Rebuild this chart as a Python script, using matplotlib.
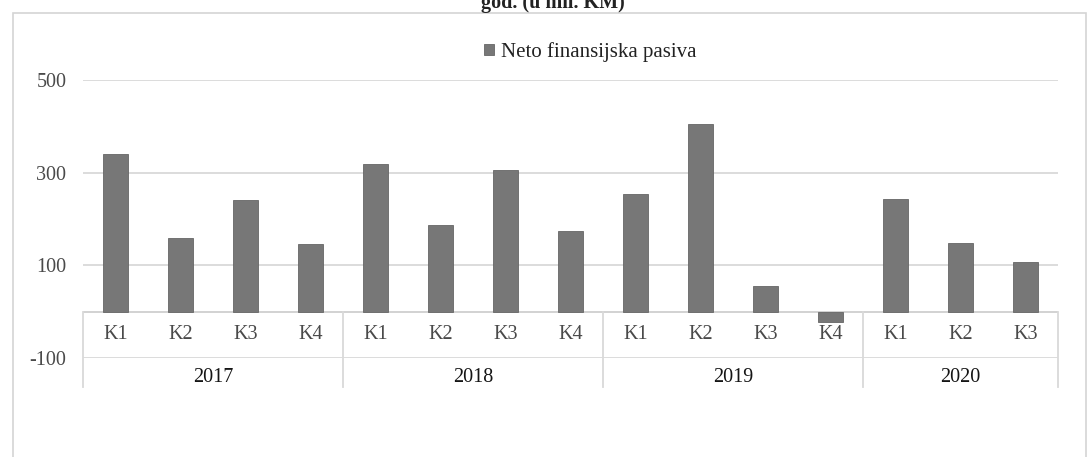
import numpy as np
from matplotlib import pyplot as plt
from matplotlib.patches import Rectangle

plt.rcParams['font.family'] = ['Liberation Serif', 'DejaVu Serif']

years = ['2017', '2018', '2019', '2020']
quarters = [['K1', 'K2', 'K3', 'K4'], ['K1', 'K2', 'K3', 'K4'],
            ['K1', 'K2', 'K3', 'K4'], ['K1', 'K2', 'K3']]
values = [341, 160, 241, 145,
          319, 188, 306, 174,
          255, 406, 55, -22,
          243, 149, 108]
yticks = [-100, 100, 300, 500]
series_name = 'Neto finansijska pasiva'

W, H = 1088, 457
fig = plt.figure(figsize=(W / 100, H / 100), dpi=100)
fig.patch.set_facecolor('white')

# outer frame of the chart (scanned page)
fig.patches.append(Rectangle((13 / W, -0.05), (1086 - 13) / W, 1.05 - 13 / H,
                             transform=fig.transFigure, fill=False,
                             edgecolor='#d4d4d4', lw=1.2))

# title is cut off at the top edge, as in the scan
fig.text(553 / W, 1 - 8 / H, 'god. (u mil. KM)', ha='center', va='baseline',
         fontsize=14.5, fontweight='bold', color='#222222')

left, right = 83, 1058
top, bottom = 80, 358
ax = fig.add_axes([left / W, 1 - bottom / H, (right - left) / W, (bottom - top) / H])

x = np.arange(len(values))
ax.bar(x, values, width=0.385, color='#777777', edgecolor='#666666', lw=0.6,
       label=series_name, zorder=3)

ax.set_xlim(-0.5, len(values) - 0.5)
ax.set_ylim(-100, 500)
ax.set_yticks(yticks)
ax.set_yticklabels([str(v) for v in yticks], fontsize=14.5, color='#4a4a4a')
ax.tick_params(axis='y', length=0, pad=12)
ax.set_xticks([])
for s in ax.spines.values():
    s.set_visible(False)

for v in [100, 300, 500]:
    ax.axhline(v, color='#d9d9d9', lw=1.3, zorder=1)

# multi-level category axis
ax.axhline(0, color='#cfcfcf', lw=1.3, zorder=2)
ax.axhline(-100, color='#d9d9d9', lw=1.3, zorder=2)
pos = 0
bounds = [-0.5]
for yr, qs in zip(years, quarters):
    for q in qs:
        ax.text(pos, -50, q, ha='center', va='center', fontsize=14.5,
                color='#4a4a4a')
        pos += 1
    mid = (bounds[-1] + pos - 0.5) / 2
    ax.text(mid, -142, yr, ha='center', va='center', fontsize=14.5,
            color='#151515', clip_on=False)
    bounds.append(pos - 0.5)
for b in bounds:
    ax.plot([b, b], [0, -162], color='#d9d9d9', lw=1.3, clip_on=False)

leg = ax.legend(loc='center', bbox_to_anchor=(590 / W, 1 - 52 / H),
                bbox_transform=fig.transFigure, frameon=False, fontsize=15,
                handlelength=0.5, handleheight=0.5, handletextpad=0.3)
for t in leg.get_texts():
    t.set_color('#222222')

fig.savefig('out.png', dpi=100)
